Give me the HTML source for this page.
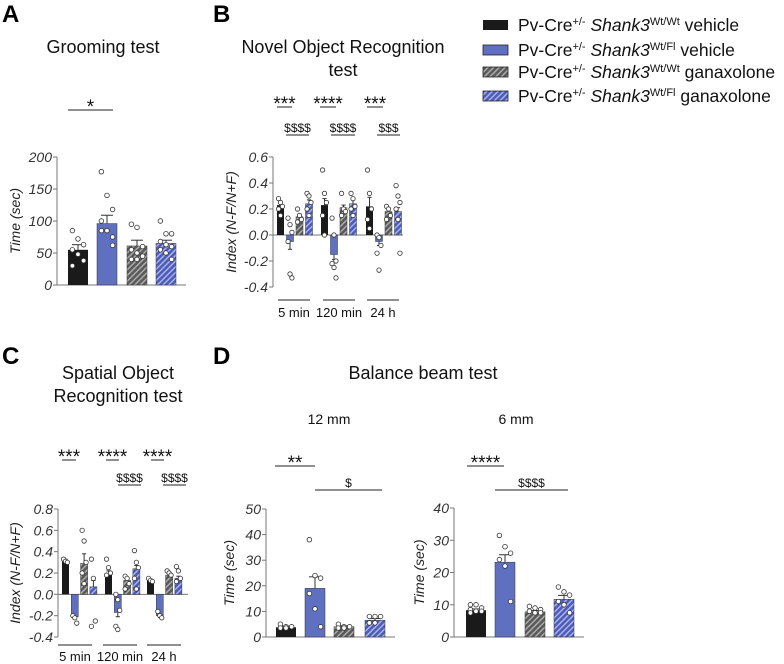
<!DOCTYPE html>
<html><head><meta charset="utf-8"><style>
body{margin:0;background:#fff;}
svg{display:block;font-family:"Liberation Sans",Arial,sans-serif;}
</style></head><body>
<svg id="fig" width="784" height="664" viewBox="0 0 784 664">
<defs>
<pattern id="hg" patternUnits="userSpaceOnUse" width="4" height="4" patternTransform="rotate(45)"><rect width="4" height="4" fill="#5a5a5a"/><rect width="1.5" height="4" fill="#aaa"/></pattern>
<pattern id="hb" patternUnits="userSpaceOnUse" width="4" height="4" patternTransform="rotate(45)"><rect width="4" height="4" fill="#4c5cb8"/><rect width="1.5" height="4" fill="#a8b2e8"/></pattern>
</defs>
<g font-weight="bold" font-size="24">
<text x="2" y="22">A</text>
<text x="213" y="22">B</text>
<text x="2" y="364">C</text>
<text x="213" y="364">D</text>
</g>
<g font-size="18" text-anchor="middle" fill="#111">
<text x="103" y="53">Grooming test</text>
<text x="343" y="53">Novel Object Recognition</text>
<text x="343" y="76">test</text>
<text x="118" y="379">Spatial Object</text>
<text x="118" y="402">Recognition test</text>
<text x="423" y="379">Balance beam test</text>
<text x="329" y="424" font-size="14">12 mm</text>
<text x="516" y="424" font-size="14">6 mm</text>
</g>
<g id="legend" font-size="17.5" fill="#111">
<rect x="483" y="20" width="25" height="10" fill="#1a1a1a"/>
<text x="518" y="31">Pv-Cre<tspan font-size="11" dy="-6">+/-</tspan><tspan dy="6" font-style="italic"> Shank3</tspan><tspan font-size="11" dy="-6">Wt/Wt</tspan><tspan dy="6"> vehicle</tspan></text>
<rect x="483" y="45" width="25" height="10" fill="#6070c0" stroke="#222" stroke-width="0.8"/>
<text x="518" y="56">Pv-Cre<tspan font-size="11" dy="-6">+/-</tspan><tspan dy="6" font-style="italic"> Shank3</tspan><tspan font-size="11" dy="-6">Wt/Fl</tspan><tspan dy="6"> vehicle</tspan></text>
<rect x="483" y="67" width="25" height="10" fill="url(#hg)" stroke="#222" stroke-width="0.8"/>
<text x="518" y="78">Pv-Cre<tspan font-size="11" dy="-6">+/-</tspan><tspan dy="6" font-style="italic"> Shank3</tspan><tspan font-size="11" dy="-6">Wt/Wt</tspan><tspan dy="6"> ganaxolone</tspan></text>
<rect x="483" y="91" width="25" height="10" fill="url(#hb)" stroke="#222" stroke-width="0.8"/>
<text x="518" y="102">Pv-Cre<tspan font-size="11" dy="-6">+/-</tspan><tspan dy="6" font-style="italic"> Shank3</tspan><tspan font-size="11" dy="-6">Wt/Fl</tspan><tspan dy="6"> ganaxolone</tspan></text>
</g>
</svg>
<script>
// ---- data ----
const groomValues=[55,96,61,65];
const groomErr=[8,13,9,5];
const groomDots=[[85,72,63,55,48,38,30],[177,140,118,100,85,75,85,85,62],[95,90,60,55,50,45,40,40],[100,80,80,68,63,60,55,50,40]];
const groomTicks=[0,50,100,150,200];

const norGroups=["5 min","120 min","24 h"];
const norValues=[[0.23,-0.05,0.14,0.24],[0.23,-0.15,0.21,0.24],[0.22,-0.05,0.18,0.18]];
const norErr=[[0.02,0.06,0.02,0.03],[0.05,0.04,0.02,0.03],[0.07,0.03,0.02,0.03]];
const norDots=[[[0.28,0.25,0.22,0.2,0.15],[0.13,0.08,0.02,-0.05,-0.3,-0.33],[0.2,0.15,0.12,0.1],[0.32,0.3,0.25,0.2,0.15]],
 [[0.5,0.32,0.25,0.15,0],[0.13,0,-0.2,-0.22,-0.25,-0.33],[0.32,0.2,0.18,0.15],[0.32,0.28,0.22,0.2,0.15]],
 [[0.5,0.32,0.2,0.12,0.05],[0,-0.02,-0.08,-0.14,-0.27],[0.22,0.2,0.15,0.12],[0.38,0.3,0.25,0.2,0.12,-0.14]]];
const norTicks=[-0.4,-0.2,0.0,0.2,0.4,0.6];

const sorGroups=["5 min","120 min","24 h"];
const sorValues=[[0.31,-0.21,0.29,0.07],[0.19,-0.17,0.13,0.24],[0.13,-0.2,0.18,0.15]];
const sorErr=[[0.02,0.02,0.09,0.06],[0.03,0.04,0.02,0.03],[0.01,0.01,0.01,0.02]];
const sorDots=[[[0.33,0.31,0.3],[-0.2,-0.22,-0.27],[0.6,0.5,0.3,0.2,0.1],[0.33,0.15,-0.25,-0.3]],
 [[0.33,0.25,0.2,0.18],[0,-0.05,-0.15,-0.3,-0.33],[0.17,0.15,0.1,0.05],[0.41,0.3,0.25,0.15,0.05]],
 [[0.15,0.13,0.12],[-0.16,-0.2,-0.22],[0.22,0.2,0.18],[0.26,0.22,0.15,0.12]]];
const sorTicks=[-0.4,-0.2,0.0,0.2,0.4,0.6,0.8];

const b12Values=[3.8,19,4,6.5];
const b12Err=[0.5,4.5,0.4,0.7];
const b12Dots=[[5,4,4,3.5,3.5],[38,24,23,17,11,4],[5,4,4,3.5,3.5],[8,8,8,5.5,5.5]];
const b12Ticks=[0,10,20,30,40,50];

const b6Values=[8.3,23.2,7.8,11.7];
const b6Err=[0.4,2.3,0.4,1.2];
const b6Dots=[[10,10,9,8.5,8,8,7.5],[31.5,28,26,24,22,11],[9.5,9,8.5,8,7.5,7.5],[15.5,14,13,11,10,7.5]];
const b6Ticks=[0,10,20,30,40];

// ---- drawing ----
const svg=document.getElementById('fig');
const NS='http://www.w3.org/2000/svg';
const fills=['#1a1a1a','#6070c0','url(#hg)','url(#hb)'];
function mk(tag,attrs,parent){const e=document.createElementNS(NS,tag);for(const k in attrs)e.setAttribute(k,attrs[k]);(parent||svg).appendChild(e);return e;}

function panel(name,ax,xEnd,vTop,pTop,vBot,pBot,ticks,fmt,yTitle,yTitleX){
  const g=mk('g',{});
  
  
  const y=v=>pBot+(v-vBot)*(pTop-pBot)/(vTop-vBot);
  const a=mk('line',{x1:ax,x2:ax,y1:y(vTop),y2:y(vBot),stroke:'#777','stroke-width':1},g);
  
  
  ticks.forEach(t=>{
    mk('line',{x1:ax-4,x2:ax,y1:y(t),y2:y(t),stroke:'#777'},g);
    const tx=mk('text',{x:ax-5,y:y(t)+5,'text-anchor':'end','font-size':14,'font-style':'italic',fill:'#333'},g);
    tx.textContent=fmt(t);
    
    
  });
  const yt=mk('text',{x:yTitleX,y:(y(vTop)+y(vBot))/2,'text-anchor':'middle','font-size':14,'font-style':'italic',fill:'#222',transform:`rotate(-90 ${yTitleX} ${(y(vTop)+y(vBot))/2})`},g);
  yt.textContent=yTitle;
  
  
  const zero=Math.max(vBot,0);
  const bl=mk('line',{x1:ax,x2:xEnd,y1:y(zero),y2:y(zero),stroke:'#777'},g);
  
  
  return {g,y,zero};
}
function bars(p,xs,w,vals,errs,dots,dotR){
  vals.forEach((v,i)=>{
    const x=xs[i],y0=p.y(p.zero),y1=p.y(v);
    const r=mk('rect',{x:x,y:Math.min(y0,y1),width:w,height:Math.abs(y1-y0),fill:fills[i],stroke:i==0?'none':'#333','stroke-width':0.5},p.g);
    
    
    const ye=p.y(v+(v>=0?errs[i]:-errs[i]));
    mk('line',{x1:x+w/2,x2:x+w/2,y1:y1,y2:ye,stroke:'#333'},p.g);
    mk('line',{x1:x+w/2-w*0.3,x2:x+w/2+w*0.3,y1:ye,y2:ye,stroke:'#333'},p.g);
    const n=dots[i].length;
    dots[i].forEach((d,j)=>{
      const off=n>1?(j%3-1)*w*0.28:0;
      const c=mk('circle',{cx:x+w/2+off,cy:p.y(d),r:dotR,fill:'#fff',stroke:'#333','stroke-width':0.8},p.g);
      
      
    });
  });
}
function sig(label,x1,x2,y){
  mk('line',{x1:x1,x2:x2,y1:y,y2:y,stroke:'#222','stroke-width':1});
  const d=label.startsWith('$');
  const t=mk('text',{x:(x1+x2)/2,y:d?y-3:y+3,'text-anchor':'middle','font-size':d?12:19,fill:'#111'});
  t.textContent=label;
  
  
}
function glabels(labels,centers,halfw,yLine,yText){
  labels.forEach((l,i)=>{
    mk('line',{x1:centers[i]-halfw,x2:centers[i]+halfw,y1:yLine,y2:yLine,stroke:'#222'});
    const t=mk('text',{x:centers[i],y:yText,'text-anchor':'middle','font-size':13,fill:'#111'});
    t.textContent=l;
    
    
  });
}
const f0=t=>String(t), f1=t=>t.toFixed(1);

// A
const pA=panel('grooming-chart',57,186,200,157,0,285,groomTicks,f0,'Time (sec)',20);
bars(pA,[68,97,127,156],20,groomValues,groomErr,groomDots,2.3);
sig('*',68,113,110);

// B
const pB=panel('nor-chart',273,403,0.6,157,-0.4,287,norTicks,f1,'Index (N-F/N+F)',236);
const bStarts=[277,321,366];
norValues.forEach((vals,gi)=>bars(pB,[0,1,2,3].map(k=>bStarts[gi]+k*9.5),7,vals,norErr[gi],norDots[gi],2.2));
glabels(norGroups,[294,339,383],16,300,317);
sig('***',277,292,107);sig('$$$$',286,309,135);
sig('****',320,336,107);sig('$$$$',331,355,135);
sig('***',367,383,107);sig('$$$',377,400,135);

// C
const pC=panel('sor-chart',58,188,0.8,509,-0.4,637,sorTicks,f1,'Index (N-F/N+F)',20);
const cStarts=[62,105,147];
sorValues.forEach((vals,gi)=>bars(pC,[0,1,2,3].map(k=>cStarts[gi]+k*9.3),7,vals,sorErr[gi],sorDots[gi],2.2));
glabels(sorGroups,[75,120,164],17,645,661);
sig('***',62,76,460);sig('****',106,119,460);sig('$$$$',118,141,485);
sig('****',151,164,460);sig('$$$$',163,186,485);

// D 12mm
const pD1=panel('balance-12mm-chart',266,395,50,509,0,637,b12Ticks,f0,'Time (sec)',234);
bars(pD1,[276,305,334,365],20,b12Values,b12Err,b12Dots,2.3);
sig('**',275,315,466);sig('$',315,382,490);

// D 6mm
const pD2=panel('balance-6mm-chart',454,584,40,508,0,637,b6Ticks,f0,'Time (sec)',424);
bars(pD2,[466,495,525,554],20,b6Values,b6Err,b6Dots,2.3);
sig('****',467,504,466);sig('$$$$',495,568,490);
</script>
</body></html>
